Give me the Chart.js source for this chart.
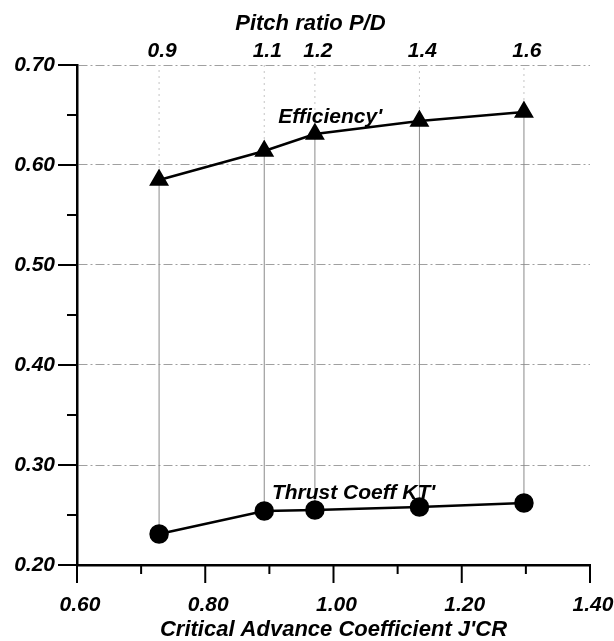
<!DOCTYPE html>
<html>
<head>
<meta charset="utf-8">
<script src="https://cdn.jsdelivr.net/npm/chart.js@4.4.1/dist/chart.umd.min.js"></script>
<style>
  html, body { margin: 0; padding: 0; background: #fff; }
  #wrap { width: 614px; height: 641px; }
</style>
</head>
<body>
<div id="wrap"><canvas id="chart"></canvas></div>
<script>
// Propeller series: one point per pitch ratio
const pitchRatios = ['0.9', '1.1', '1.2', '1.4', '1.6'];
const advanceCoeff = [0.728, 0.892, 0.971, 1.134, 1.297];
const efficiency = [0.585, 0.614, 0.631, 0.644, 0.653];
const thrustCoeff = [0.231, 0.254, 0.255, 0.258, 0.262];

// curve captions, placed in data units
const curveLabels = [
    { text: "Efficiency'", x: 0.914, y: 0.648 },
    { text: "Thrust Coeff KT'", x: 0.904, y: 0.272 }
];
const topTitle = { text: 'Pitch ratio P/D', x: 0.964 };

const FONT = "'Liberation Sans', Arial, sans-serif";
const tickFont = { family: FONT, size: 21, weight: 'bold', style: 'italic' };
const titleFont = { family: FONT, size: 22, weight: 'bold', style: 'italic' };

const toPoints = (ys) => advanceCoeff.map((x, i) => ({ x: x, y: ys[i] }));

// vertical guide lines joining each pair of points
const connectors = advanceCoeff.map((x, i) => ({
    data: [{ x: x, y: thrustCoeff[i] }, { x: x, y: efficiency[i] }],
    borderColor: '#8a8a8a',
    borderWidth: 1,
    pointRadius: 0,
    order: 3
}));
const upperGuides = advanceCoeff.map((x, i) => ({
    data: [{ x: x, y: efficiency[i] }, { x: x, y: 0.70 }],
    borderColor: '#c4c4c4',
    borderWidth: 1,
    borderDash: [2, 4],
    pointRadius: 0,
    order: 3
}));

// minor ticks, tick marks and captions
const axisMarks = {
    id: 'axisMarks',
    afterDraw(chart) {
        const { ctx, scales: { x, y } } = chart;
        ctx.save();
        ctx.strokeStyle = '#000';
        ctx.lineWidth = 2;
        const bottom = y.getPixelForValue(y.min);
        const left = x.getPixelForValue(x.min);
        const xt = x.ticks.map(t => t.value);
        xt.forEach((v, i) => {
            const px = x.getPixelForValue(v);
            ctx.beginPath(); ctx.moveTo(px, bottom); ctx.lineTo(px, bottom + 18); ctx.stroke();
            if (i < xt.length - 1) {
                const mx = x.getPixelForValue((v + xt[i + 1]) / 2);
                ctx.beginPath(); ctx.moveTo(mx, bottom); ctx.lineTo(mx, bottom + 9); ctx.stroke();
            }
        });
        const yt = y.ticks.map(t => t.value);
        yt.forEach((v, i) => {
            const py = y.getPixelForValue(v);
            ctx.beginPath(); ctx.moveTo(left, py); ctx.lineTo(left - 19, py); ctx.stroke();
            if (i < yt.length - 1) {
                const my = y.getPixelForValue((v + yt[i + 1]) / 2);
                ctx.beginPath(); ctx.moveTo(left, my); ctx.lineTo(left - 10, my); ctx.stroke();
            }
        });
        ctx.fillStyle = '#000';
        ctx.font = 'italic bold 21px ' + FONT;
        ctx.textAlign = 'left';
        ctx.textBaseline = 'middle';
        curveLabels.forEach(l => {
            ctx.fillText(l.text, x.getPixelForValue(l.x), y.getPixelForValue(l.y));
        });
        ctx.font = 'italic bold 22px ' + FONT;
        ctx.textAlign = 'center';
        ctx.fillText(topTitle.text, x.getPixelForValue(topTitle.x), 24);
        ctx.restore();
    }
};

new Chart(document.getElementById('chart'), {
    type: 'line',
    data: {
        datasets: [
            {
                label: 'Efficiency',
                data: toPoints(efficiency),
                borderColor: '#000',
                backgroundColor: '#000',
                borderWidth: 2.5,
                pointStyle: 'triangle',
                pointRadius: 9,
                order: 1
            },
            {
                label: 'Thrust Coeff',
                data: toPoints(thrustCoeff),
                borderColor: '#000',
                backgroundColor: '#000',
                borderWidth: 2.5,
                pointStyle: 'circle',
                pointRadius: 8.5,
                order: 1
            },
            ...connectors,
            ...upperGuides
        ]
    },
    options: {
        responsive: true,
        maintainAspectRatio: false,
        animation: false,
        layout: { padding: { right: 24, top: 0, left: 0, bottom: 0 } },
        plugins: { legend: { display: false }, tooltip: { enabled: false } },
        scales: {
            x: {
                type: 'linear',
                position: 'bottom',
                min: 0.6,
                max: 1.4,
                ticks: {
                    stepSize: 0.2,
                    color: '#000',
                    font: tickFont,
                    padding: 28,
                    labelOffset: 3,
                    maxRotation: 0,
                    callback: (v) => v.toFixed(2)
                },
                grid: { display: false, drawTicks: false },
                border: { display: true, color: '#000', width: 2.5 },
                title: {
                    display: true,
                    text: "Critical Advance Coefficient J'CR",
                    color: '#000',
                    font: titleFont,
                    padding: { top: 0, bottom: -2 }
                },
                afterFit: (s) => { s.height = 76; s.paddingLeft = 0; s.paddingRight = 0; }
            },
            x2: {
                type: 'linear',
                position: 'top',
                min: 0.6,
                max: 1.4,
                afterBuildTicks: (s) => { s.ticks = advanceCoeff.map(v => ({ value: v })); },
                ticks: {
                    autoSkip: false,
                    color: '#000',
                    font: tickFont,
                    padding: 1,
                    labelOffset: 3,
                    maxRotation: 0,
                    callback: (v, i) => pitchRatios[i]
                },
                grid: { display: false, drawTicks: false },
                border: { display: false },
                afterFit: (s) => { s.height = 65; s.paddingLeft = 0; s.paddingRight = 0; }
            },
            y: {
                type: 'linear',
                min: 0.2,
                max: 0.7,
                ticks: {
                    stepSize: 0.1,
                    color: '#000',
                    font: tickFont,
                    padding: 22,
                    callback: (v) => v.toFixed(2)
                },
                grid: {
                    drawTicks: false,
                    color: (c) => (c.tick && c.tick.value < 0.25) ? 'rgba(0,0,0,0)' : '#a0a0a0',
                    lineWidth: 1
                },
                border: { display: true, color: '#000', width: 2.5, dash: [9, 3, 2, 3] },
                afterFit: (s) => { s.width = 77; s.paddingTop = 0; s.paddingBottom = 0; }
            }
        }
    },
    plugins: [axisMarks]
});
</script>
</body>
</html>
